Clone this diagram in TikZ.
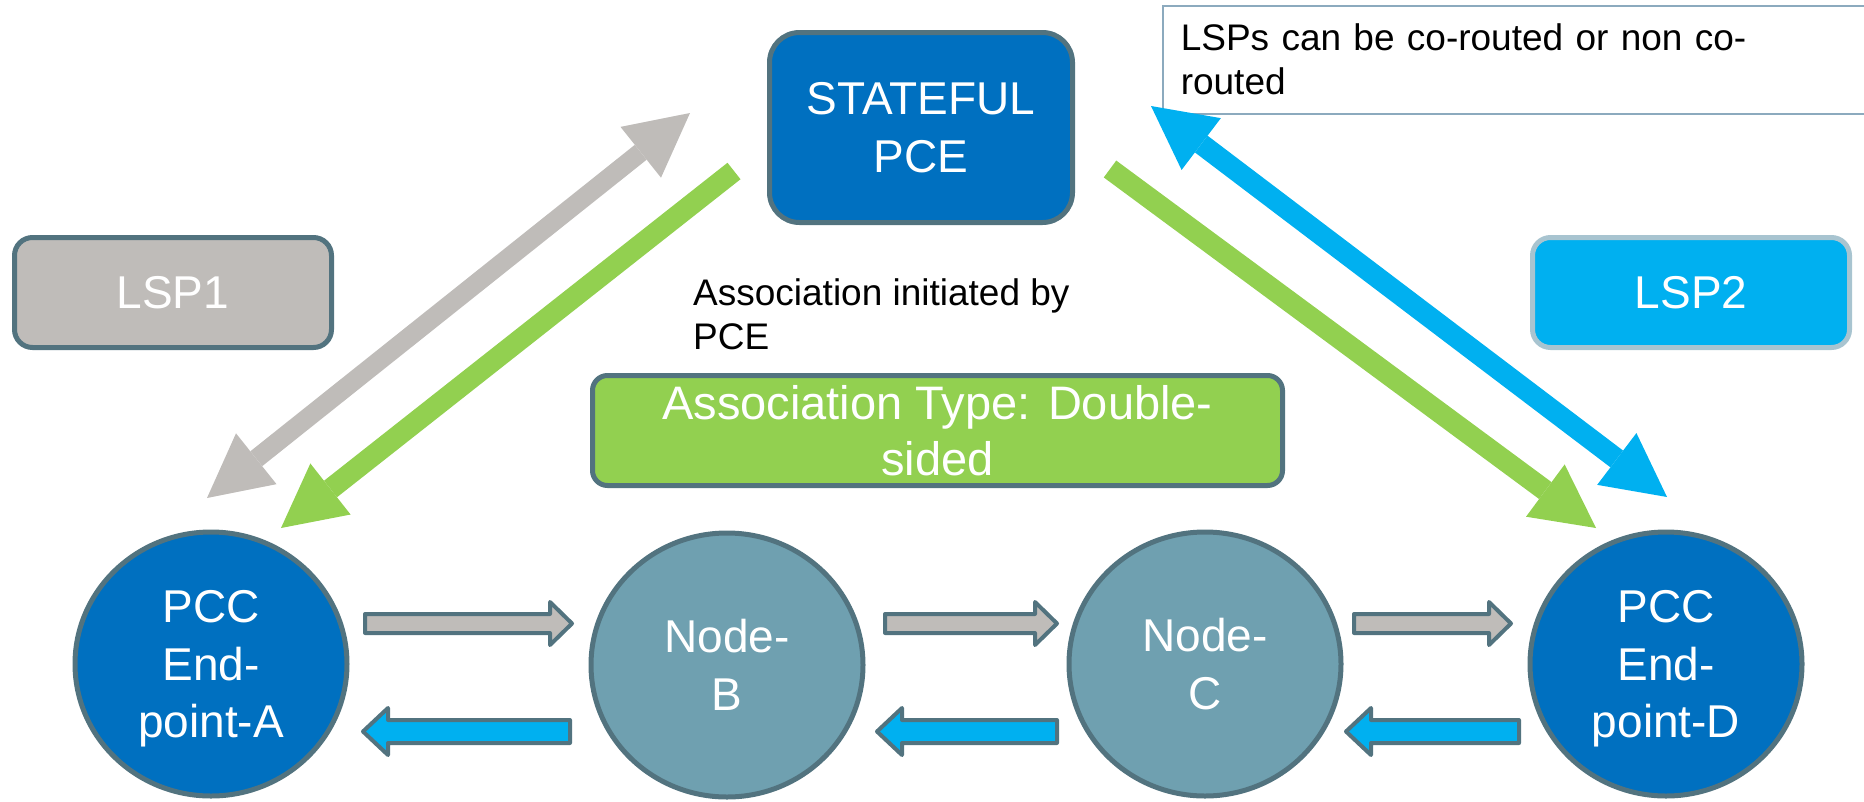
\documentclass[tikz,border=0pt]{standalone}
\usepackage{fontspec}
\setmainfont{Liberation Sans}
\usetikzlibrary{shapes.geometric,arrows.meta,calc}

\definecolor{pceblue}{RGB}{0,112,192}
\definecolor{lspgrey}{RGB}{191,188,185}
\definecolor{lspblue}{RGB}{0,176,240}
\definecolor{assocgreen}{RGB}{146,208,80}
\definecolor{nodeteal}{RGB}{111,160,176}
\definecolor{edgeslate}{RGB}{82,115,127}
\definecolor{lsptwoedge}{RGB}{168,196,208}
\definecolor{noteedge}{RGB}{140,170,190}

\newcommand\fatarrow[6]{%
  \draw[blockarrow,fill=#3] let \p1=(#1), \p2=(#2), \p3=($(#2)!#6!(#1)$) in
    (\x1,\y1+#4) -- (\x3,\y1+#4) -- (\x3,\y1+#5) -- (\x2,\y2)
    -- (\x3,\y1-#5) -- (\x3,\y1-#4) -- (\x1,\y1-#4) -- cycle;}

\begin{document}
\begin{tikzpicture}[x=1pt,y=-1pt,
    box/.style={draw=edgeslate,line width=5pt,rounded corners=18pt,text=white,
      font=\fontsize{46}{58}\selectfont,align=center,inner sep=0pt},
    station/.style={ellipse,draw=edgeslate,line width=5pt,text=white,
      font=\fontsize{46}{57.5}\selectfont,align=center,inner sep=0pt,
      minimum width=272pt,minimum height=264pt,text depth=0pt},
    words/.style={font=\fontsize{37}{44}\selectfont,align=left,inner sep=0pt},
    blockarrow/.style={draw=edgeslate,line width=4pt,line join=round},
    bigtip/.tip={Triangle[width=65pt,length=63pt,line width=0pt]}]
       \useasboundingbox (0,0) rectangle (1864,801);

       \node[box,fill=pceblue,rounded corners=30pt,minimum width=303pt,minimum height=190pt] (pce) at (921,127.5) {STATEFUL\\PCE};
       \node[box,fill=lspgrey,minimum width=317pt,minimum height=110pt] (lsp1) at (173,292.5) {LSP1};
       \node[box,fill=lspblue,draw=lsptwoedge,minimum width=317pt,minimum height=110pt] (lsp2) at (1691,292.5) {LSP2};
       \node[box,fill=assocgreen,rounded corners=15pt,minimum width=690pt,minimum height=110pt,
         font=\fontsize{47}{56}\selectfont] (assoc) at (937.5,430.5) {Association Type: Double-\\sided};

       \node[words,anchor=north west] (initby) at (693,278) {Association initiated by\\PCE};
       \node[words,draw=noteedge,line width=1.5pt,anchor=north west,text width=684pt,inner xsep=18pt,
         minimum height=108pt] (note) at (1162,5) {LSPs can be co-routed or non co-\\routed};

       \node[station,fill=pceblue] (pccA) at (211,664) {PCC\\End-\\point-A};
       \node[station,fill=nodeteal] (nodeB) at (727,665) {Node-\\B};
       \node[station,fill=nodeteal] (nodeC) at (1205,664) {Node-\\C};
       \node[station,fill=pceblue] (pccD) at (1666,664) {PCC\\End-\\point-D};

       \coordinate (lsp1-lo) at (207,498);
       \coordinate (lsp1-hi) at (690,113);
       \draw[lspgrey,line width=19pt,bigtip-bigtip] (lsp1-lo) -- (lsp1-hi);
       \coordinate (assA-s) at (734,171);
       \coordinate (assA-e) at (281,528);
       \draw[assocgreen,line width=21pt,-bigtip] (assA-s) -- (assA-e);
       \coordinate (assD-s) at (1110,169);
       \coordinate (assD-e) at (1596,528);
       \draw[assocgreen,line width=21pt,-bigtip] (assD-s) -- (assD-e);
       \coordinate (lsp2-hi) at (1151,106);
       \coordinate (lsp2-lo) at (1667,497);
       \draw[lspblue,line width=21pt,bigtip-bigtip] (lsp2-hi) -- (lsp2-lo);

       \coordinate (ab-s) at (365,623.5);   \coordinate (ab-e) at (572,623.5);
       \coordinate (bc-s) at (885,623.5);   \coordinate (bc-e) at (1057,623.5);
       \coordinate (cd-s) at (1354,623.5);  \coordinate (cd-e) at (1511,623.5);
       \fatarrow{ab-s}{ab-e}{lspgrey}{9.5pt}{21.5pt}{22pt}
       \fatarrow{bc-s}{bc-e}{lspgrey}{9.5pt}{21.5pt}{22pt}
       \fatarrow{cd-s}{cd-e}{lspgrey}{9.5pt}{21.5pt}{22pt}
       \coordinate (ba-s) at (570,731.5);   \coordinate (ba-e) at (363,731.5);
       \coordinate (cb-s) at (1057,731.5);  \coordinate (cb-e) at (877,731.5);
       \coordinate (dc-s) at (1519,731.5);  \coordinate (dc-e) at (1346,731.5);
       \fatarrow{ba-s}{ba-e}{lspblue}{11.5pt}{23.5pt}{25pt}
       \fatarrow{cb-s}{cb-e}{lspblue}{11.5pt}{23.5pt}{25pt}
       \fatarrow{dc-s}{dc-e}{lspblue}{11.5pt}{23.5pt}{25pt}
    \end{tikzpicture}
\end{document}
